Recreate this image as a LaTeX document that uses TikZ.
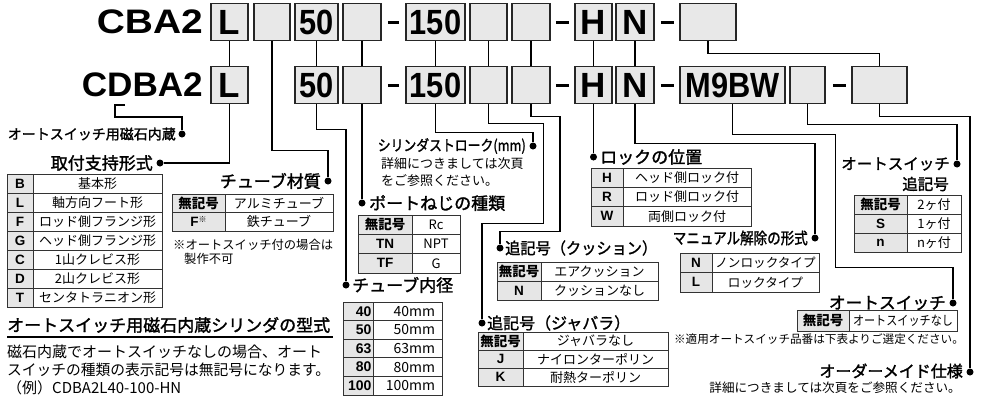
\documentclass[tikz,border=0pt]{standalone}
\usepackage{fontspec}
\usepackage{graphicx}
\setmainfont{Liberation Sans}
\newfontfamily\jp{Noto Sans CJK JP}
\newfontfamily\jpm[FakeBold=1.6]{Noto Sans CJK JP}
\definecolor{boxgray}{RGB}{232,232,232}
\definecolor{cellgray}{RGB}{230,230,230}
\newcommand\fs[1]{\fontsize{#1}{#1}\selectfont}
\newcommand\hw[2]{\resizebox{#1pt}{\height}{#2}}
\newcommand\dg[1]{\scalebox{0.88}[1]{#1}}
\tikzset{
  codebox/.style={draw=black!85, line width=1.5pt, fill=boxgray, inner sep=0pt, minimum height=37pt, font=\fs{35}\bfseries},
  bigcode/.style={inner sep=0pt, anchor=east, font=\fs{34}\bfseries},
  conn/.style={line width=1.2pt, draw=black},
  dotmark/.style={circle, fill=black, inner sep=0pt, minimum size=7pt},
  dashbar/.style={line width=3pt},
  head/.style={inner sep=0pt, font=\jpm\fs{17}},
  subtext/.style={inner sep=0pt, font=\jp\fs{13}},
  ccell/.style={draw=black!80, line width=0.8pt, fill=cellgray, inner sep=0pt, font=\fs{13.5}\bfseries},
  dcell/.style={draw=black!80, line width=0.8pt, fill=white, inner sep=0pt, font=\jp\fs{13}},
}
\begin{document}
\begin{tikzpicture}[x=1pt,y=-1pt]
\useasboundingbox (0,0) rectangle (981,397);
% ---------- model codes
\node[bigcode] (cba) at (203,22) {\hw{106}{CBA2}};
\node[bigcode] (cdba) at (203,85) {\hw{121}{CDBA2}};
% row 1
\node[codebox, minimum width=37pt] (r1L) at (229.5,22) {L};
\node[codebox, minimum width=36pt] (r1e1) at (272,22) {};
\node[codebox, minimum width=43pt] (r1n50) at (316.5,22) {\dg{50}};
\node[codebox, minimum width=38pt] (r1e2) at (362,22) {};
\node[codebox, minimum width=59pt] (r1n150) at (435.5,22) {\dg{150}};
\node[codebox, minimum width=37pt] (r1e3) at (488.5,22) {};
\node[codebox, minimum width=38pt] (r1e4) at (531,22) {};
\node[codebox, minimum width=37pt] (r1H) at (593.5,22) {H};
\node[codebox, minimum width=38pt] (r1N) at (635,22) {N};
\node[codebox, minimum width=56pt] (r1e5) at (708,22) {};
% row 2
\node[codebox, minimum width=37pt] (r2L) at (229.5,85) {L};
\node[codebox, minimum width=43pt] (r2n50) at (316.5,85) {\dg{50}};
\node[codebox, minimum width=38pt] (r2e2) at (362,85) {};
\node[codebox, minimum width=59pt] (r2n150) at (435.5,85) {\dg{150}};
\node[codebox, minimum width=37pt] (r2e3) at (488.5,85) {};
\node[codebox, minimum width=38pt] (r2e4) at (531,85) {};
\node[codebox, minimum width=37pt] (r2H) at (593.5,85) {H};
\node[codebox, minimum width=38pt] (r2N) at (635,85) {N};
\node[codebox, minimum width=105pt] (r2M) at (732.5,85) {\dg{M9BW}};
\node[codebox, minimum width=35pt] (r2e6) at (807.5,85) {};
\node[codebox, minimum width=55pt] (r2e7) at (879.5,85) {};
% dashes
\draw[dashbar] ([xshift=6pt]r1e2.east) -- ([xshift=-6pt]r1n150.west);
\draw[dashbar] ([xshift=5pt]r1e4.east) -- ([xshift=-5pt]r1H.west);
\draw[dashbar] ([xshift=6pt]r1N.east) -- ([xshift=-5pt]r1e5.west);
\draw[dashbar] ([xshift=6pt]r2e2.east) -- ([xshift=-6pt]r2n150.west);
\draw[dashbar] ([xshift=5pt]r2e4.east) -- ([xshift=-5pt]r2H.west);
\draw[dashbar] ([xshift=6pt]r2N.east) -- ([xshift=-5pt]r2M.west);
\draw[dashbar] ([xshift=7pt]r2e6.east) -- ([xshift=-5pt]r2e7.west);
% row1 -> row2
\foreach \a in {L,n50,e2,n150,e3,e4,H,N}{\draw[conn] (r1\a) -- (r2\a);}
\draw[conn] (r1e5.south) -- ++(0,12) -| (r2e7.north);
% ---------- dots
\node[dotmark] (dMag) at (182,134) {};
\node[dotmark] (dMount) at (160,163) {};
\node[dotmark] (dTube) at (328,181) {};
\node[dotmark] (dBore) at (346,285) {};
\node[dotmark] (dPort) at (362,203) {};
\node[dotmark] (dStroke) at (533,146) {};
\node[dotmark] (dCush) at (500,248) {};
\node[dotmark] (dBel) at (482,323) {};
\node[dotmark] (dLock) at (593.5,157) {};
\node[dotmark] (dManual) at (815,238) {};
\node[dotmark] (dSwAdd) at (957,164) {};
\node[dotmark] (dSw) at (953,303) {};
\node[dotmark] (dOrder) at (970,372) {};
% ---------- connectors
\coordinate (dUa) at (125,105);
\coordinate (dUb) at (115,105);
\draw[conn] (dUa) -- (dUb) -- ++(0,12) -| (dMag);
\draw[conn] (r2L.south) |- (dMount);
\draw[conn] (r1e1.south) -- ++(0,109) -| (dTube);
\draw[conn] (r2n50.south) -- ++(0,25) -| (dBore);
\draw[conn] (r2e2.south) -- (dPort);
\draw[conn] (r2n150.south) -- ++(0,28) -| (dStroke);
\draw[conn] (r2e3.south) -- ++(0,19.5) -| ++(55,100) -| (dBel);
\draw[conn] (r2e4.south) -- ++(0,12) -| ++(29,115) -| (dCush);
\draw[conn] (r2H.south) -- (dLock);
\draw[conn] (r2N.south) -- ++(0,39) -| (dManual);
\draw[conn] (r2M.south) -- ++(0,30) -| ++(103,133) -| (dSw);
\draw[conn] (r2e6.south) -- ++(0,20) -| (dSwAdd);
\draw[conn] (r2e7.south) -- ++(0,12) -| (dOrder);
% ---------- headings
\node[head, font=\jpm\fs{14}, anchor=east] (tMag) at (176,134) {オートスイッチ用磁石内蔵};
\node[head, anchor=east] (tMount) at (153,163) {取付支持形式};
\node[head, anchor=east] (tTube) at (321,181) {チューブ材質};
\node[head, anchor=west] (tBore) at (352,285) {チューブ内径};
\node[head, anchor=west] (tPort) at (369,203) {ポートねじの種類};
\node[head, font=\jpm\fs{15}, anchor=east] (tStroke) at (526,146) {\hw{148}{シリンダストローク(mm)}};
\node[subtext, anchor=west] (tStroke2) at (381,164) {詳細につきましては次頁};
\node[subtext, anchor=west] (tStroke3) at (381,181) {をご参照ください。};
\node[head, font=\jpm\fs{16}, anchor=west] (tCush) at (505,248) {\hw{152}{追記号（クッション）}};
\node[head, font=\jpm\fs{16}, anchor=west] (tBel) at (487,323) {\hw{143}{追記号（ジャバラ）}};
\node[head, anchor=west] (tLock) at (600,157) {ロックの位置};
\node[head, font=\jpm\fs{16}, anchor=east] (tManual) at (808,238) {\hw{135}{マニュアル解除の形式}};
\node[head, font=\jpm\fs{15.5}, anchor=east] (tSwAdd) at (950,164) {オートスイッチ};
\node[head, font=\jpm\fs{15.5}, anchor=east] (tSwAdd2) at (949,184) {追記号};
\node[head, font=\jpm\fs{16.7}, anchor=east] (tSw) at (946,303) {オートスイッチ};
\node[subtext, font=\jp\fs{11.6}] (tSwNote) at (819,339) {※適用オートスイッチ品番は下表よりご選定ください。};
\node[head, font=\jpm\fs{16}, anchor=east] (tOrder) at (963,371) {オーダーメイド仕様};
\node[subtext, font=\jp\fs{12.6}, anchor=east] (tOrder2) at (961,388) {詳細につきましては次頁をご参照ください。};
% ---------- mount table
\foreach \c/\d [count=\i] in {B/基本形, L/軸方向フート形, F/ロッド側フランジ形, G/ヘッド側フランジ形, C/1山クレビス形, D/2山クレビス形, T/センタトラニオン形}{
  \node[ccell, minimum width=26pt, minimum height=19pt] (mt\i c) at (20, {174+19*\i-9.5}) {\c};
  \node[dcell, minimum width=129pt, minimum height=19pt] (mt\i d) at (97.5, {174+19*\i-9.5}) {\d};
}
% ---------- tube material table
\node[ccell, minimum width=53pt, minimum height=18.5pt] (tm1c) at (198.5,203.25) {\jp 無記号};
\node[dcell, minimum width=108pt, minimum height=18.5pt] (tm1d) at (279,203.25) {アルミチューブ};
\node[ccell, minimum width=53pt, minimum height=18.5pt] (tm2c) at (198.5,221.75) {F\raisebox{4pt}{\jp\fs{8}\mdseries ※}};
\node[dcell, minimum width=108pt, minimum height=18.5pt] (tm2d) at (279,221.75) {鉄チューブ};
\node[subtext, font=\jp\fs{12.3}, anchor=west] (tmNote1) at (173,245) {※オートスイッチ付の場合は};
\node[subtext, font=\jp\fs{12.3}, anchor=west] (tmNote2) at (184,259) {製作不可};
% ---------- port table
\foreach \c/\d [count=\i] in {{\jp 無記号}/Rc, TN/NPT, TF/G}{
  \node[ccell, minimum width=54pt, minimum height=19.3pt] (pt\i c) at (385, {215+19.3*\i-9.65}) {\c};
  \node[dcell, minimum width=48pt, minimum height=19.3pt] (pt\i d) at (436, {215+19.3*\i-9.65}) {\d};
}
% ---------- bore table
\foreach \c/\d [count=\i] in {40/40mm, 50/50mm, 63/63mm, 80/80mm, 100/100mm}{
  \node[ccell, font=\fs{14}\bfseries, minimum width=30pt, text width=27pt, inner xsep=1.5pt, align=right, minimum height=18.6pt] (bt\i c) at (358, {302+18.6*\i-9.3}) {\c};
  \node[dcell, font=\jp\fs{14}, minimum width=69pt, text width=55pt, inner xsep=7pt, align=right, minimum height=18.6pt] (bt\i d) at (407.5, {302+18.6*\i-9.3}) {\d};
}
% ---------- cushion table
\foreach \c/\d [count=\i] in {{\jp 無記号}/エアクッション, N/クッションなし}{
  \node[ccell, minimum width=44pt, minimum height=19pt] (ct\i c) at (519, {262+19*\i-9.5}) {\c};
  \node[dcell, minimum width=117pt, minimum height=19pt] (ct\i d) at (599.5, {262+19*\i-9.5}) {\d};
}
% ---------- bellows table
\foreach \c/\d [count=\i] in {{\jp 無記号}/ジャバラなし, J/ナイロンターポリン, K/耐熱ターポリン}{
  \node[ccell, minimum width=45pt, minimum height=18pt] (jt\i c) at (500.5, {332+18*\i-9}) {\c};
  \node[dcell, minimum width=145pt, minimum height=18pt] (jt\i d) at (595.5, {332+18*\i-9}) {\d};
}
% ---------- lock table
\foreach \c/\d [count=\i] in {H/ヘッド側ロック付, R/ロッド側ロック付, W/両側ロック付}{
  \node[ccell, minimum width=32pt, minimum height=19.3pt] (lt\i c) at (607, {168+19.3*\i-9.65}) {\c};
  \node[dcell, minimum width=128pt, minimum height=19.3pt] (lt\i d) at (687, {168+19.3*\i-9.65}) {\d};
}
% ---------- manual release table
\foreach \c/\d [count=\i] in {N/ノンロックタイプ, L/ロックタイプ}{
  \node[ccell, minimum width=32pt, minimum height=19.5pt] (mn\i c) at (696, {253+19.5*\i-9.75}) {\c};
  \node[dcell, font=\jp\fs{12.6}, minimum width=107pt, minimum height=19.5pt] (mn\i d) at (765.5, {253+19.5*\i-9.75}) {\d};
}
% ---------- switch suffix table
\foreach \c/\d [count=\i] in {{\jp 無記号}/2ヶ付, S/1ヶ付, n/nヶ付}{
  \node[ccell, minimum width=53pt, minimum height=19pt] (ss\i c) at (880.5, {195+19*\i-9.5}) {\c};
  \node[dcell, minimum width=54pt, minimum height=19pt] (ss\i d) at (934, {195+19*\i-9.5}) {\d};
}
% ---------- switch table
\node[ccell, minimum width=52pt, minimum height=21pt] (sw1c) at (823,320.5) {\jp 無記号};
\node[dcell, minimum width=108pt, minimum height=21pt] (sw1d) at (903,320.5) {\hw{100}{オートスイッチなし}};
% ---------- bottom-left block
\node[head, anchor=west] (tModel) at (7,325) {オートスイッチ用磁石内蔵シリンダの型式};
\coordinate (ulA) at (7,337);
\coordinate (ulB) at (333,337);
\draw[line width=1.4pt] (ulA) -- (ulB);
\node[subtext, font=\jp\fs{15}, anchor=west] (p1) at (7,352) {\hw{315}{磁石内蔵でオートスイッチなしの場合、オート}};
\node[subtext, font=\jp\fs{15}, anchor=west] (p2) at (7,370) {\hw{323}{スイッチの種類の表示記号は無記号になります。}};
\node[subtext, font=\jp\fs{15}, anchor=west] (p3) at (7,388) {（例）CDBA2L40-100-HN};
\end{tikzpicture}
\end{document}
